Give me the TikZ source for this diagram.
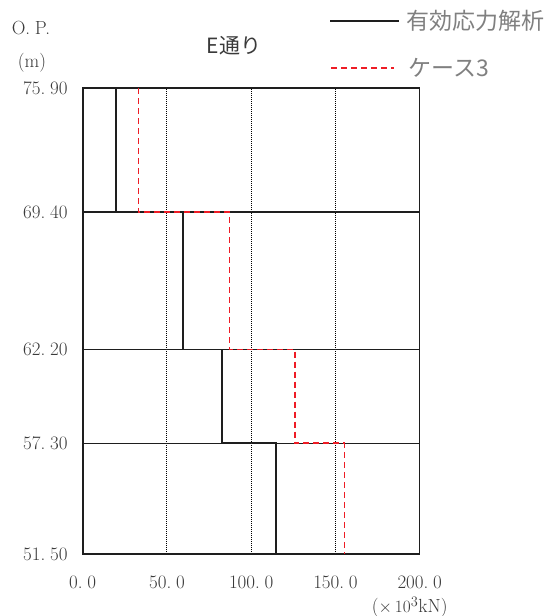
\documentclass[tikz,border=0pt]{standalone}
\usepackage{fontspec}
\usepackage{xcolor}
\newfontfamily\jpfont{Noto Sans CJK JP}
\definecolor{linegray}{HTML}{1E1E1E}
\definecolor{labelgray}{HTML}{3A3A3A}
\definecolor{legendgray}{HTML}{808080}
\definecolor{casered}{HTML}{EE1C25}
\newcommand{\dsp}{\hspace{.25em}}

\begin{document}
\begin{tikzpicture}[x=1pt,y=1pt,
    axislbl/.style={text=labelgray,font=\fontsize{19}{21}\selectfont,inner sep=0pt},
    legendlbl/.style={text=legendgray,font=\jpfont\fontsize{23}{26}\selectfont,anchor=west,inner sep=0pt},
    effline/.style={draw=linegray,line width=1.6pt},
    caseline/.style={draw=casered,line width=1.6pt,dash pattern=on 6pt off 4pt},
    gridline/.style={draw=black,line width=1pt,dash pattern=on 1pt off 1pt}]
    \useasboundingbox (0,0) rectangle (553,616);

    % titles and legend
    \node[axislbl] (op) at (31,588) {O.\dsp P.};
    \node[axislbl] (unit) at (32,553) {(m)};
    \node[text=labelgray,font=\jpfont\fontsize{21}{24}\selectfont,inner sep=0pt] (title) at (234,570) {E通り};
    \coordinate (leg1a) at (330,595);
    \coordinate (leg1b) at (399,595);
    \coordinate (leg2a) at (331,548);
    \coordinate (leg2b) at (394,548);
    \draw[effline] (leg1a) -- (leg1b);
    \draw[caseline] (leg2a) -- (leg2b);
    \node[legendlbl] (leg1) at (406,595) {有効応力解析};
    \node[legendlbl] (leg2) at (408,548) {ケース3};

    \begin{scope}[shift={(82.7pt,-921.7pt)},x=1.685pt,y=19.1pt]
    % grid
    \foreach \gx in {50,100,150,200}
        \draw[gridline] (\gx,51.5) -- (\gx,75.9);
    \draw[draw=linegray,line width=1.5pt] (0,51.5) rectangle (200,75.9);
    \draw[draw=linegray,line width=2pt] (0,75.9) -- (0,51.5) -- (200,51.5);
    \foreach \ly in {69.4,62.2,57.3}
        \draw[draw=linegray,line width=1.5pt] (0,\ly) -- (200,\ly);

    % elevation labels
    \foreach \ly/\lt in {75.9/75.\dsp 90,69.4/69.\dsp 40,62.2/62.\dsp 20,57.3/57.\dsp 30,51.5/51.\dsp 50}
        \node[axislbl,anchor=east] at ([xshift=-15pt]0,\ly) {\lt};
    % force labels
    \foreach \gx/\lt in {0/0.\dsp 0,50/50.\dsp 0,100/100.\dsp 0,150/150.\dsp 0,200/200.\dsp 0}
        \node[axislbl] at ([yshift=-28pt]\gx,51.5) {\lt};
    \node[axislbl] (fu) at ([xshift=-10pt,yshift=-53pt]200,51.5) {(${\times}\,10^{3}$kN)};

    % effective stress analysis
    \draw[effline] (19.8,75.9) -- (19.8,69.4) -- (59.7,69.4) -- (59.7,62.2)
        -- (82.5,62.2) -- (82.5,57.3) -- (114.7,57.3) -- (114.7,51.5);
    % case 3
    \draw[caseline] (33.2,75.9) -- (33.2,69.4) -- (87.2,69.4) -- (87.2,62.2)
        -- (126,62.2) -- (126,57.3) -- (155.3,57.3) -- (155.3,51.5);
    \end{scope}
\end{tikzpicture}
\end{document}
